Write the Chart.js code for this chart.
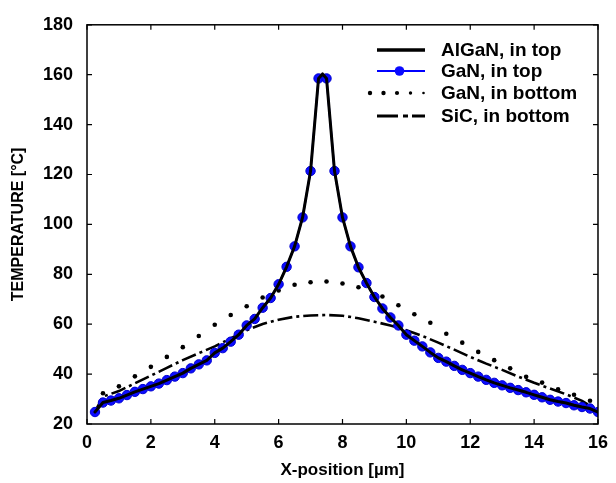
<!DOCTYPE html>
<html><head><meta charset="utf-8">
<script src="https://cdn.jsdelivr.net/npm/chart.js@4"></script>
<style>html,body{margin:0;padding:0;background:#fff}#wrap{width:616px;height:483px}</style>
</head><body><div id="wrap"><canvas id="c" width="616" height="483"></canvas></div>
<script>
const xTicks = [0,2,4,6,8,10,12,14,16];
const yTicks = [20,40,60,80,100,120,140,160,180];
const xTitle = 'X-position [µm]';
const yTitle = 'TEMPERATURE [°C]';
const seriesNames = ['AlGaN, in top','GaN, in top','GaN, in bottom','SiC, in bottom'];

const gaNTopX = [0.25,0.5,0.75,1,1.25,1.5,1.75,2,2.25,2.5,2.75,3,3.25,3.5,3.75,4,4.25,4.5,4.75,5,5.25,5.5,5.75,6,6.25,6.5,6.75,7,7.25,7.5,7.75,8,8.25,8.5,8.75,9,9.25,9.5,9.75,10,10.25,10.5,10.75,11,11.25,11.5,11.75,12,12.25,12.5,12.75,13,13.25,13.5,13.75,14,14.25,14.5,14.75,15,15.25,15.5,15.75,16];
const gaNTopY = [24.8,28.6,29.4,30.3,31.6,32.9,34.0,35.1,36.2,37.6,39.0,40.4,42.3,43.9,45.5,48.5,50.4,53.0,55.8,59.5,62.1,66.6,70.5,76.0,83.0,91.2,102.8,121.4,158.5,158.5,121.4,102.8,91.2,82.8,76.5,70.9,66.3,62.7,59.5,55.8,53.4,51.1,48.7,46.5,45.0,43.3,41.7,40.4,39.0,37.7,36.5,35.5,34.5,33.6,32.7,31.7,30.7,29.7,29.0,28.4,27.5,26.8,26.2,24.8];

const alGaNTopX = [0.25,0.5,0.75,1,1.25,1.5,1.75,2,2.25,2.5,2.75,3,3.25,3.5,3.75,4,4.25,4.5,4.75,5,5.25,5.5,5.75,6,6.25,6.5,6.75,7,7.25,7.375,7.5,7.75,8,8.25,8.5,8.75,9,9.25,9.5,9.75,10,10.25,10.5,10.75,11,11.25,11.5,11.75,12,12.25,12.5,12.75,13,13.25,13.5,13.75,14,14.25,14.5,14.75,15,15.25,15.5,15.75,16];
const alGaNTopY = [24.8,28.6,29.4,30.3,31.6,32.9,34.0,35.1,36.2,37.6,39.0,40.4,42.3,43.9,45.5,48.5,50.4,53.0,55.8,59.5,62.1,66.6,70.5,76.0,83.0,91.2,102.8,121.4,158.5,160.3,158.5,121.4,102.8,91.2,82.8,76.5,70.9,66.3,62.7,59.5,55.8,53.4,51.1,48.7,46.5,45.0,43.3,41.7,40.4,39.0,37.7,36.5,35.5,34.5,33.6,32.7,31.7,30.7,29.7,29.0,28.4,27.5,26.8,26.2,24.8];

const gaNBottomX = [0.5,1,1.5,2,2.5,3,3.5,4,4.5,5,5.5,6,6.5,7,7.5,8,8.5,9.25,9.75,10.25,10.75,11.25,11.75,12.25,12.75,13.25,13.75,14.25,14.75,15.25,15.75];
const gaNBottomY = [32.3,35.1,39.1,42.9,46.9,50.8,55.3,59.8,63.7,67.2,70.7,73.5,75.8,76.8,77.1,76.3,74.8,71.1,67.6,64.0,60.6,56.2,52.6,48.9,45.6,42.3,38.9,36.6,33.9,31.7,29.3];

const siCBottomX = [0.25,0.5,1,1.5,2,2.5,3,3.5,4,4.5,5,5.5,6,6.5,7,7.5,8,8.5,9,9.5,10,10.5,11,11.5,12,12.5,13,13.5,14,14.5,15,15.5,16];
const siCBottomY = [25.0,31.0,33.2,36.3,39.4,42.5,45.6,48.4,51.1,54.3,57.6,60.1,61.8,63.0,63.5,63.7,63.4,62.4,61.0,59.5,57.6,55.3,52.6,49.8,46.9,44.2,41.7,39.0,36.5,34.2,31.9,29.3,25.2];

const pts = (xs, ys) => xs.map((x, i) => ({x: x, y: ys[i]}));
const FONT = 'Liberation Sans';

const framePlugin = {
  id: 'frame',
  afterDatasetsDraw(chart) {
    const ctx = chart.ctx, a = chart.chartArea, sx = chart.scales.x, sy = chart.scales.y;
    ctx.save();
    ctx.strokeStyle = '#000';
    ctx.lineWidth = 1.5;
    ctx.strokeRect(a.left, a.top, a.right - a.left, a.bottom - a.top);
    ctx.lineWidth = 1.2;
    ctx.beginPath();
    xTicks.forEach(v => {
      const p = sx.getPixelForValue(v);
      ctx.moveTo(p, a.bottom); ctx.lineTo(p, a.bottom - 5);
      ctx.moveTo(p, a.top); ctx.lineTo(p, a.top + 5);
    });
    yTicks.forEach(v => {
      const p = sy.getPixelForValue(v);
      ctx.moveTo(a.left, p); ctx.lineTo(a.left + 5, p);
      ctx.moveTo(a.right, p); ctx.lineTo(a.right - 5, p);
    });
    ctx.stroke();
    ctx.restore();
  },
  afterDraw(chart) {
    const ctx = chart.ctx;
    const rows = [50, 71, 93, 116];
    const x0 = 377, x1 = 425, tx = 441;
    ctx.save();
    ctx.fillStyle = '#000';
    ctx.font = 'bold 19px "' + FONT + '"';
    ctx.textBaseline = 'middle';
    ctx.textAlign = 'left';
    seriesNames.forEach((n, i) => ctx.fillText(n, tx, rows[i] + 1));
    ctx.strokeStyle = '#000'; ctx.lineWidth = 3.5;
    ctx.beginPath(); ctx.moveTo(x0, rows[0]); ctx.lineTo(x1, rows[0]); ctx.stroke();
    ctx.strokeStyle = '#0000ff'; ctx.lineWidth = 2;
    ctx.beginPath(); ctx.moveTo(x0, rows[1]); ctx.lineTo(x1, rows[1]); ctx.stroke();
    ctx.fillStyle = '#0a0aff';
    ctx.beginPath(); ctx.arc(399.5, rows[1], 4.8, 0, Math.PI * 2); ctx.fill();
    ctx.fillStyle = '#000';
    [[370,2.2],[383.5,2.2],[397,2.1],[410.5,1.7],[423.5,1.3]].forEach(d => {
      ctx.beginPath(); ctx.arc(d[0], rows[2], d[1], 0, Math.PI * 2); ctx.fill();
    });
    ctx.strokeStyle = '#000'; ctx.lineWidth = 3;
    ctx.beginPath();
    ctx.moveTo(377, rows[3]); ctx.lineTo(398, rows[3]);
    ctx.moveTo(403, rows[3]); ctx.lineTo(408, rows[3]);
    ctx.moveTo(412, rows[3]); ctx.lineTo(425, rows[3]);
    ctx.stroke();
    ctx.restore();
  }
};

new Chart(document.getElementById('c'), {
  type: 'scatter',
  data: {
    datasets: [
      { label: seriesNames[0], data: pts(alGaNTopX, alGaNTopY), showLine: true, order: 0,
        borderColor: '#000', borderWidth: 3, pointRadius: 0, borderJoinStyle: 'round', borderCapStyle: 'round' },
      { label: seriesNames[1], data: pts(gaNTopX, gaNTopY), showLine: true, order: 1,
        borderColor: '#0000ff', borderWidth: 2, pointRadius: 4.7, pointBackgroundColor: '#0c0cff',
        pointBorderColor: '#0000d0', pointBorderWidth: 1 },
      { label: seriesNames[3], data: pts(siCBottomX, siCBottomY), showLine: true, order: 2,
        borderColor: '#000', borderWidth: 2.6, pointRadius: 0, borderDash: [15, 4, 3, 4] },
      { label: seriesNames[2], data: pts(gaNBottomX, gaNBottomY), showLine: false, order: 3,
        pointRadius: 2.3, pointBackgroundColor: '#000', pointBorderWidth: 0 }
    ]
  },
  options: {
    responsive: false, animation: false, devicePixelRatio: 1,
    layout: { padding: { top: 13, right: 9.5, left: 0, bottom: 0 } },
    plugins: { legend: { display: false }, tooltip: { enabled: false } },
    scales: {
      x: {
        type: 'linear', min: 0, max: 16,
        afterBuildTicks: s => { s.ticks = xTicks.map(v => ({ value: v })); },
        afterFit: s => { s.height = 59; },
        grid: { display: false, drawTicks: false }, border: { display: false },
        ticks: { color: '#000', padding: 8, maxRotation: 0, font: { family: FONT, weight: 'bold', size: 18 } },
        title: { display: true, text: xTitle, color: '#000', padding: { top: 4, bottom: 2 },
                 font: { family: FONT, weight: 'bold', size: 17 } }
      },
      y: {
        type: 'linear', min: 20, max: 180,
        afterBuildTicks: s => { s.ticks = yTicks.map(v => ({ value: v })); },
        afterFit: s => { s.width = 87; },
        grid: { display: false, drawTicks: false }, border: { display: false },
        ticks: { color: '#000', padding: 14, font: { family: FONT, weight: 'bold', size: 18 } },
        title: { display: true, text: yTitle, color: '#000', padding: { top: 9, bottom: 4 },
                 font: { family: FONT, weight: 'bold', size: 16 } }
      }
    }
  },
  plugins: [framePlugin]
});
</script>
</body></html>
